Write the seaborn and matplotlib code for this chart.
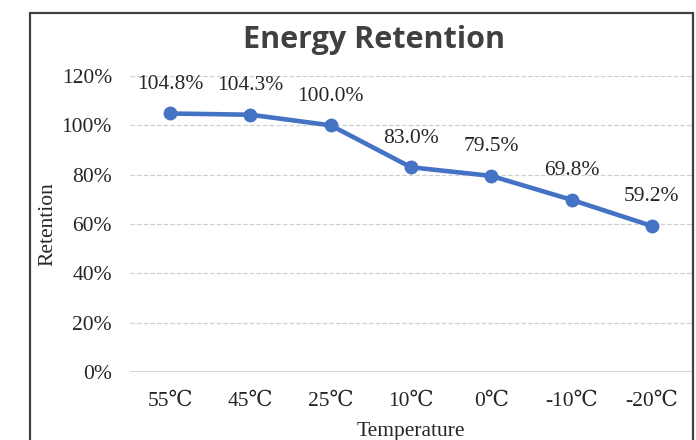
import pandas as pd
import matplotlib.pyplot as plt
import seaborn as sns
from matplotlib.patches import Rectangle


#==============================================================
# 1. Data
#==============================================================

temperatures = ["55℃", "45℃", "25℃", "10℃", "0℃", "-10℃", "-20℃"]
retention = [1.048, 1.043, 1.000, 0.830, 0.795, 0.698, 0.592]
label_text = ["104.8%", "104.3%", "100.0%", "83.0%", "79.5%", "69.8%", "59.2%"]
y_ticks = [0.0, 0.2, 0.4, 0.6, 0.8, 1.0, 1.2]
y_tick_labels = ["0%", "20%", "40%", "60%", "80%", "100%", "120%"]

df = pd.DataFrame({"Temperature": temperatures, "Retention": retention})


#==============================================================
# 2. Plot
#==============================================================

sns.set_style("white")
plt.rcParams["font.family"] = ["Liberation Serif", "DejaVu Serif"]

fig = plt.figure(figsize=(6.96, 4.4), dpi=100)
ax = fig.add_axes([130 / 696, 68 / 440, 562 / 696, 296 / 440])

# outer frame
fig.patches.append(Rectangle((30 / 696, -0.05), 663 / 696, 1.05 - 13 / 440,
                             transform=fig.transFigure, fill=False,
                             edgecolor="#404040", linewidth=1.6))

sns.lineplot(data=df, x="Temperature", y="Retention", sort=False, ax=ax,
             color="#4472C4", linewidth=3.3, marker="o", markersize=10,
             markeredgewidth=0)

for i, (v, t) in enumerate(zip(retention, label_text)):
    ax.annotate(t, (i, v), xytext=(0, 21), textcoords="offset points",
                ha="center", va="center", fontsize=15.5, color="#262626")

ax.set_xlim(-0.5, len(temperatures) - 0.5)
ax.set_ylim(0, 1.2)
ax.set_yticks(y_ticks)
ax.set_yticklabels(y_tick_labels)
ax.tick_params(axis="y", length=0, pad=13, labelsize=15.5, labelcolor="#262626")
ax.tick_params(axis="x", length=0, pad=14, labelsize=15.5, labelcolor="#262626")

ax.grid(axis="y", linestyle="--", color="#d0d0d0", linewidth=0.9)
ax.axhline(0, color="#d0d0d0", linewidth=1.2)
sns.despine(ax=ax, left=True, bottom=True)

ax.set_ylabel("Retention", fontsize=15.5, color="#262626")
ax.yaxis.set_label_coords(-0.13, 0.5)
ax.set_xlabel("Temperature", fontsize=15.5, color="#262626")
ax.xaxis.set_label_coords(0.5, -0.17)

fig.text(374 / 696, 1 - 40 / 440, "Energy Retention", ha="center", va="center",
         fontsize=22, fontweight="bold", family="Open Sans", color="#404040")

fig.savefig("out.png", dpi=100)
